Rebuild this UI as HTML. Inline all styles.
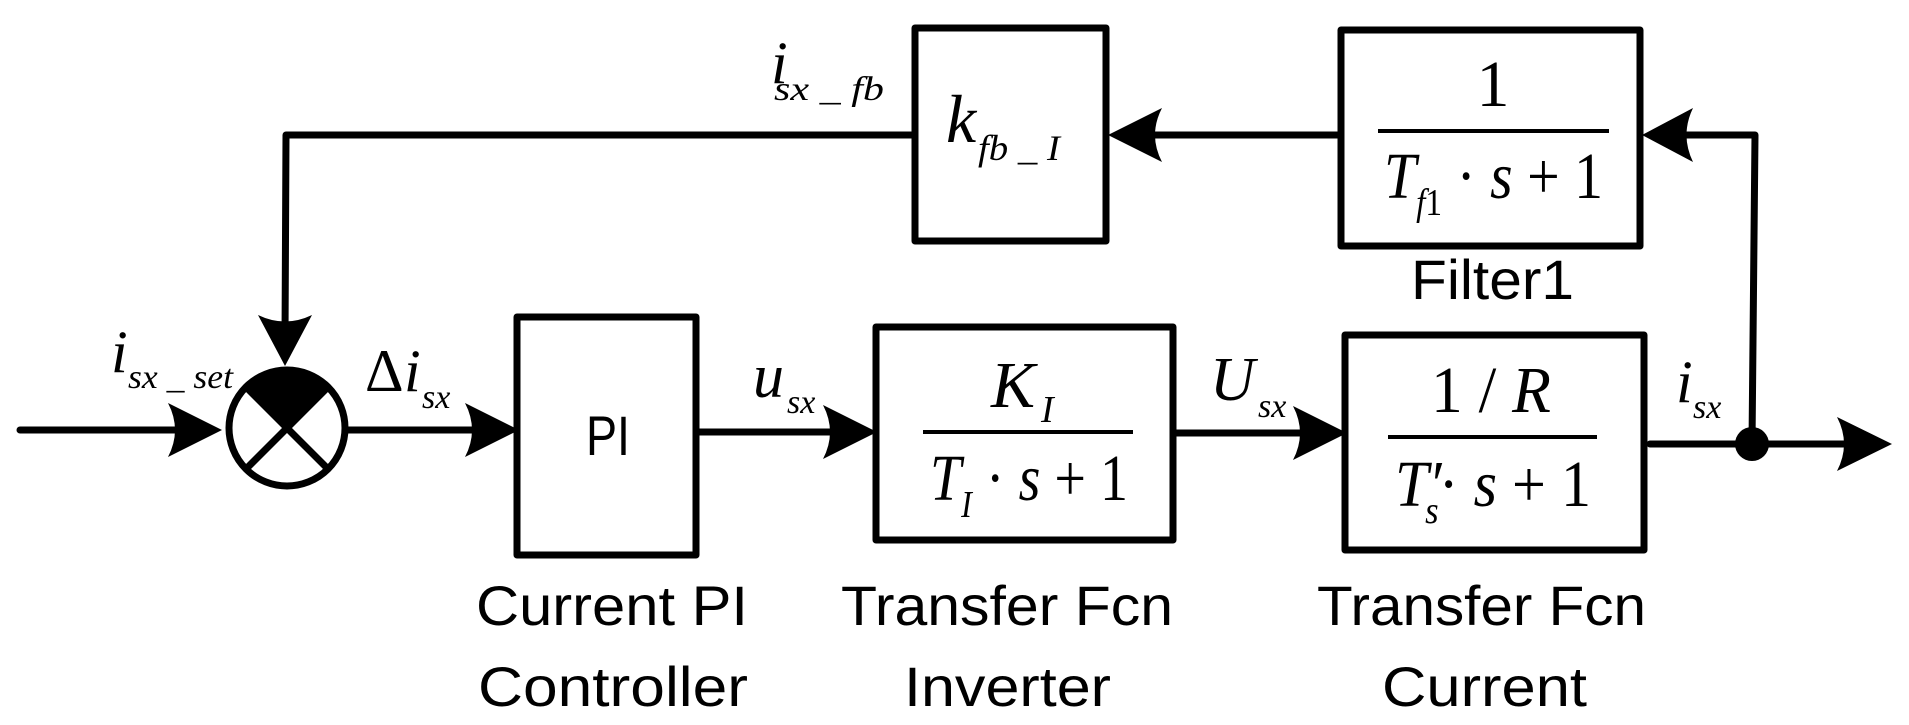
<!DOCTYPE html>
<html><head><meta charset="utf-8"><style>
html,body{margin:0;padding:0;background:#fff;}
svg{display:block;}
.m{font-family:"Liberation Serif",serif;font-style:italic;}
.r{font-family:"Liberation Serif",serif;}
.l{font-family:"Liberation Sans",sans-serif;font-size:56px;}
</style></head><body>
<svg width="1909" height="725" viewBox="0 0 1909 725" xmlns="http://www.w3.org/2000/svg">
<g fill="none" stroke="#000" stroke-width="7" stroke-linejoin="round" stroke-linecap="round">
<!-- boxes -->
<rect x="517" y="317" width="179" height="238"/>
<rect x="876" y="327" width="297" height="213"/>
<rect x="1345" y="335" width="299" height="215"/>
<rect x="915" y="28" width="191" height="213"/>
<rect x="1341" y="30" width="299" height="216"/>
<!-- sum -->
<circle cx="287" cy="428" r="58"/>
<!-- lines -->
<line x1="20" y1="430" x2="200" y2="430"/>
<line x1="345" y1="430" x2="500" y2="430"/>
<line x1="696" y1="432" x2="860" y2="432"/>
<line x1="1173" y1="433" x2="1330" y2="433"/>
<line x1="1650" y1="444" x2="1870" y2="444"/>
<polyline points="1752,444 1755,135 1680,135"/>
<line x1="1341" y1="135" x2="1140" y2="135"/>
<polyline points="915,135 286,135 285,340"/>
</g>
<!-- sum details -->
<path d="M287,428 L246,387 A58,58 0 0 1 328,387 Z" fill="#000"/>
<g stroke="#000" stroke-width="7">
<line x1="246" y1="387" x2="328" y2="469"/>
<line x1="328" y1="387" x2="246" y2="469"/>
</g>
<!-- fraction lines -->
<g stroke="#000" stroke-width="4">
<line x1="923" y1="432" x2="1133" y2="432"/>
<line x1="1388" y1="437" x2="1597" y2="437"/>
<line x1="1378" y1="131" x2="1609" y2="131"/>
</g>
<!-- arrowheads -->
<g fill="#000">
<path d="M222,430 L168,403 Q182,430 168,457 Z"/>
<path d="M519,430 L465,403 Q479,430 465,457 Z"/>
<path d="M877,432 L823,405 Q837,432 823,459 Z"/>
<path d="M1347,433 L1293,406 Q1307,433 1293,460 Z"/>
<path d="M1892,444 L1837,417 Q1851,444 1837,471 Z"/>
<path d="M1108,135 L1162,108 Q1148,135 1162,162 Z"/>
<path d="M1642,135 L1693,108 Q1680,135 1693,162 Z"/>
<path d="M285,366 L258,315 Q285,328 312,315 Z"/>
<circle cx="1752" cy="444" r="17"/>
</g>
<!-- math labels -->
<g class="m" fill="#000">
<text x="111" y="372" font-size="60">i</text>
<text x="128" y="388" font-size="34" textLength="105" lengthAdjust="spacingAndGlyphs">sx _ set</text>
<text x="365" y="391" font-size="60" class="r" style="font-style:normal">Δ</text>
<text x="404" y="391" font-size="60">i</text>
<text x="422" y="408" font-size="34">sx</text>
<text x="753" y="397" font-size="62">u</text>
<text x="787" y="413" font-size="34">sx</text>
<text x="1210" y="400" font-size="62">U</text>
<text x="1258" y="417" font-size="34">sx</text>
<text x="1676" y="402" font-size="60">i</text>
<text x="1693" y="418" font-size="34">sx</text>
<text x="771" y="83" font-size="60">i</text>
<text x="774" y="100" font-size="34" textLength="110" lengthAdjust="spacingAndGlyphs">sx _ fb</text>
<text x="946" y="142" font-size="68">k</text>
<text x="978" y="160" font-size="36" textLength="82" lengthAdjust="spacingAndGlyphs">fb _ I</text>
<!-- inverter -->
<text x="991" y="407" font-size="66">K</text>
<text x="1041" y="422" font-size="38">I</text>
<text x="930" y="500" font-size="66" textLength="198" lengthAdjust="spacingAndGlyphs">T<tspan font-size="38" dy="17">I</tspan><tspan dy="-17" class="r" style="font-style:normal"> ·</tspan> s<tspan class="r" style="font-style:normal"> + 1</tspan></text>
<!-- current -->
<text x="1431" y="412" font-size="66" textLength="120" lengthAdjust="spacingAndGlyphs"><tspan class="r" style="font-style:normal">1 / </tspan>R</text>
<text x="1395" y="506" font-size="66" textLength="196" lengthAdjust="spacingAndGlyphs">T′<tspan font-size="38" dy="17" dx="-18">s</tspan><tspan dy="-17" class="r" style="font-style:normal">·</tspan> s<tspan class="r" style="font-style:normal"> + 1</tspan></text>
<!-- filter -->
<text x="1493" y="106" font-size="66" class="r" style="font-style:normal" text-anchor="middle">1</text>
<text x="1384" y="198" font-size="66" textLength="219" lengthAdjust="spacingAndGlyphs">T<tspan font-size="38" dy="17">f<tspan class="r" style="font-style:normal">1</tspan></tspan><tspan dy="-17" class="r" style="font-style:normal"> ·</tspan> s<tspan class="r" style="font-style:normal"> + 1</tspan></text>
</g>
<!-- PI -->
<text class="l" x="586" y="455" textLength="44" lengthAdjust="spacingAndGlyphs">PI</text>
<!-- captions -->
<g class="l" fill="#000">
<text x="476" y="625" textLength="272" lengthAdjust="spacingAndGlyphs">Current PI</text>
<text x="478" y="706" textLength="270" lengthAdjust="spacingAndGlyphs">Controller</text>
<text x="841" y="625" textLength="332" lengthAdjust="spacingAndGlyphs">Transfer Fcn</text>
<text x="904" y="706" textLength="207" lengthAdjust="spacingAndGlyphs">Inverter</text>
<text x="1317" y="625" textLength="329" lengthAdjust="spacingAndGlyphs">Transfer Fcn</text>
<text x="1382" y="706" textLength="205" lengthAdjust="spacingAndGlyphs">Current</text>
<text x="1411" y="299" textLength="163" lengthAdjust="spacingAndGlyphs">Filter1</text>
</g>
</svg>
</body></html>
